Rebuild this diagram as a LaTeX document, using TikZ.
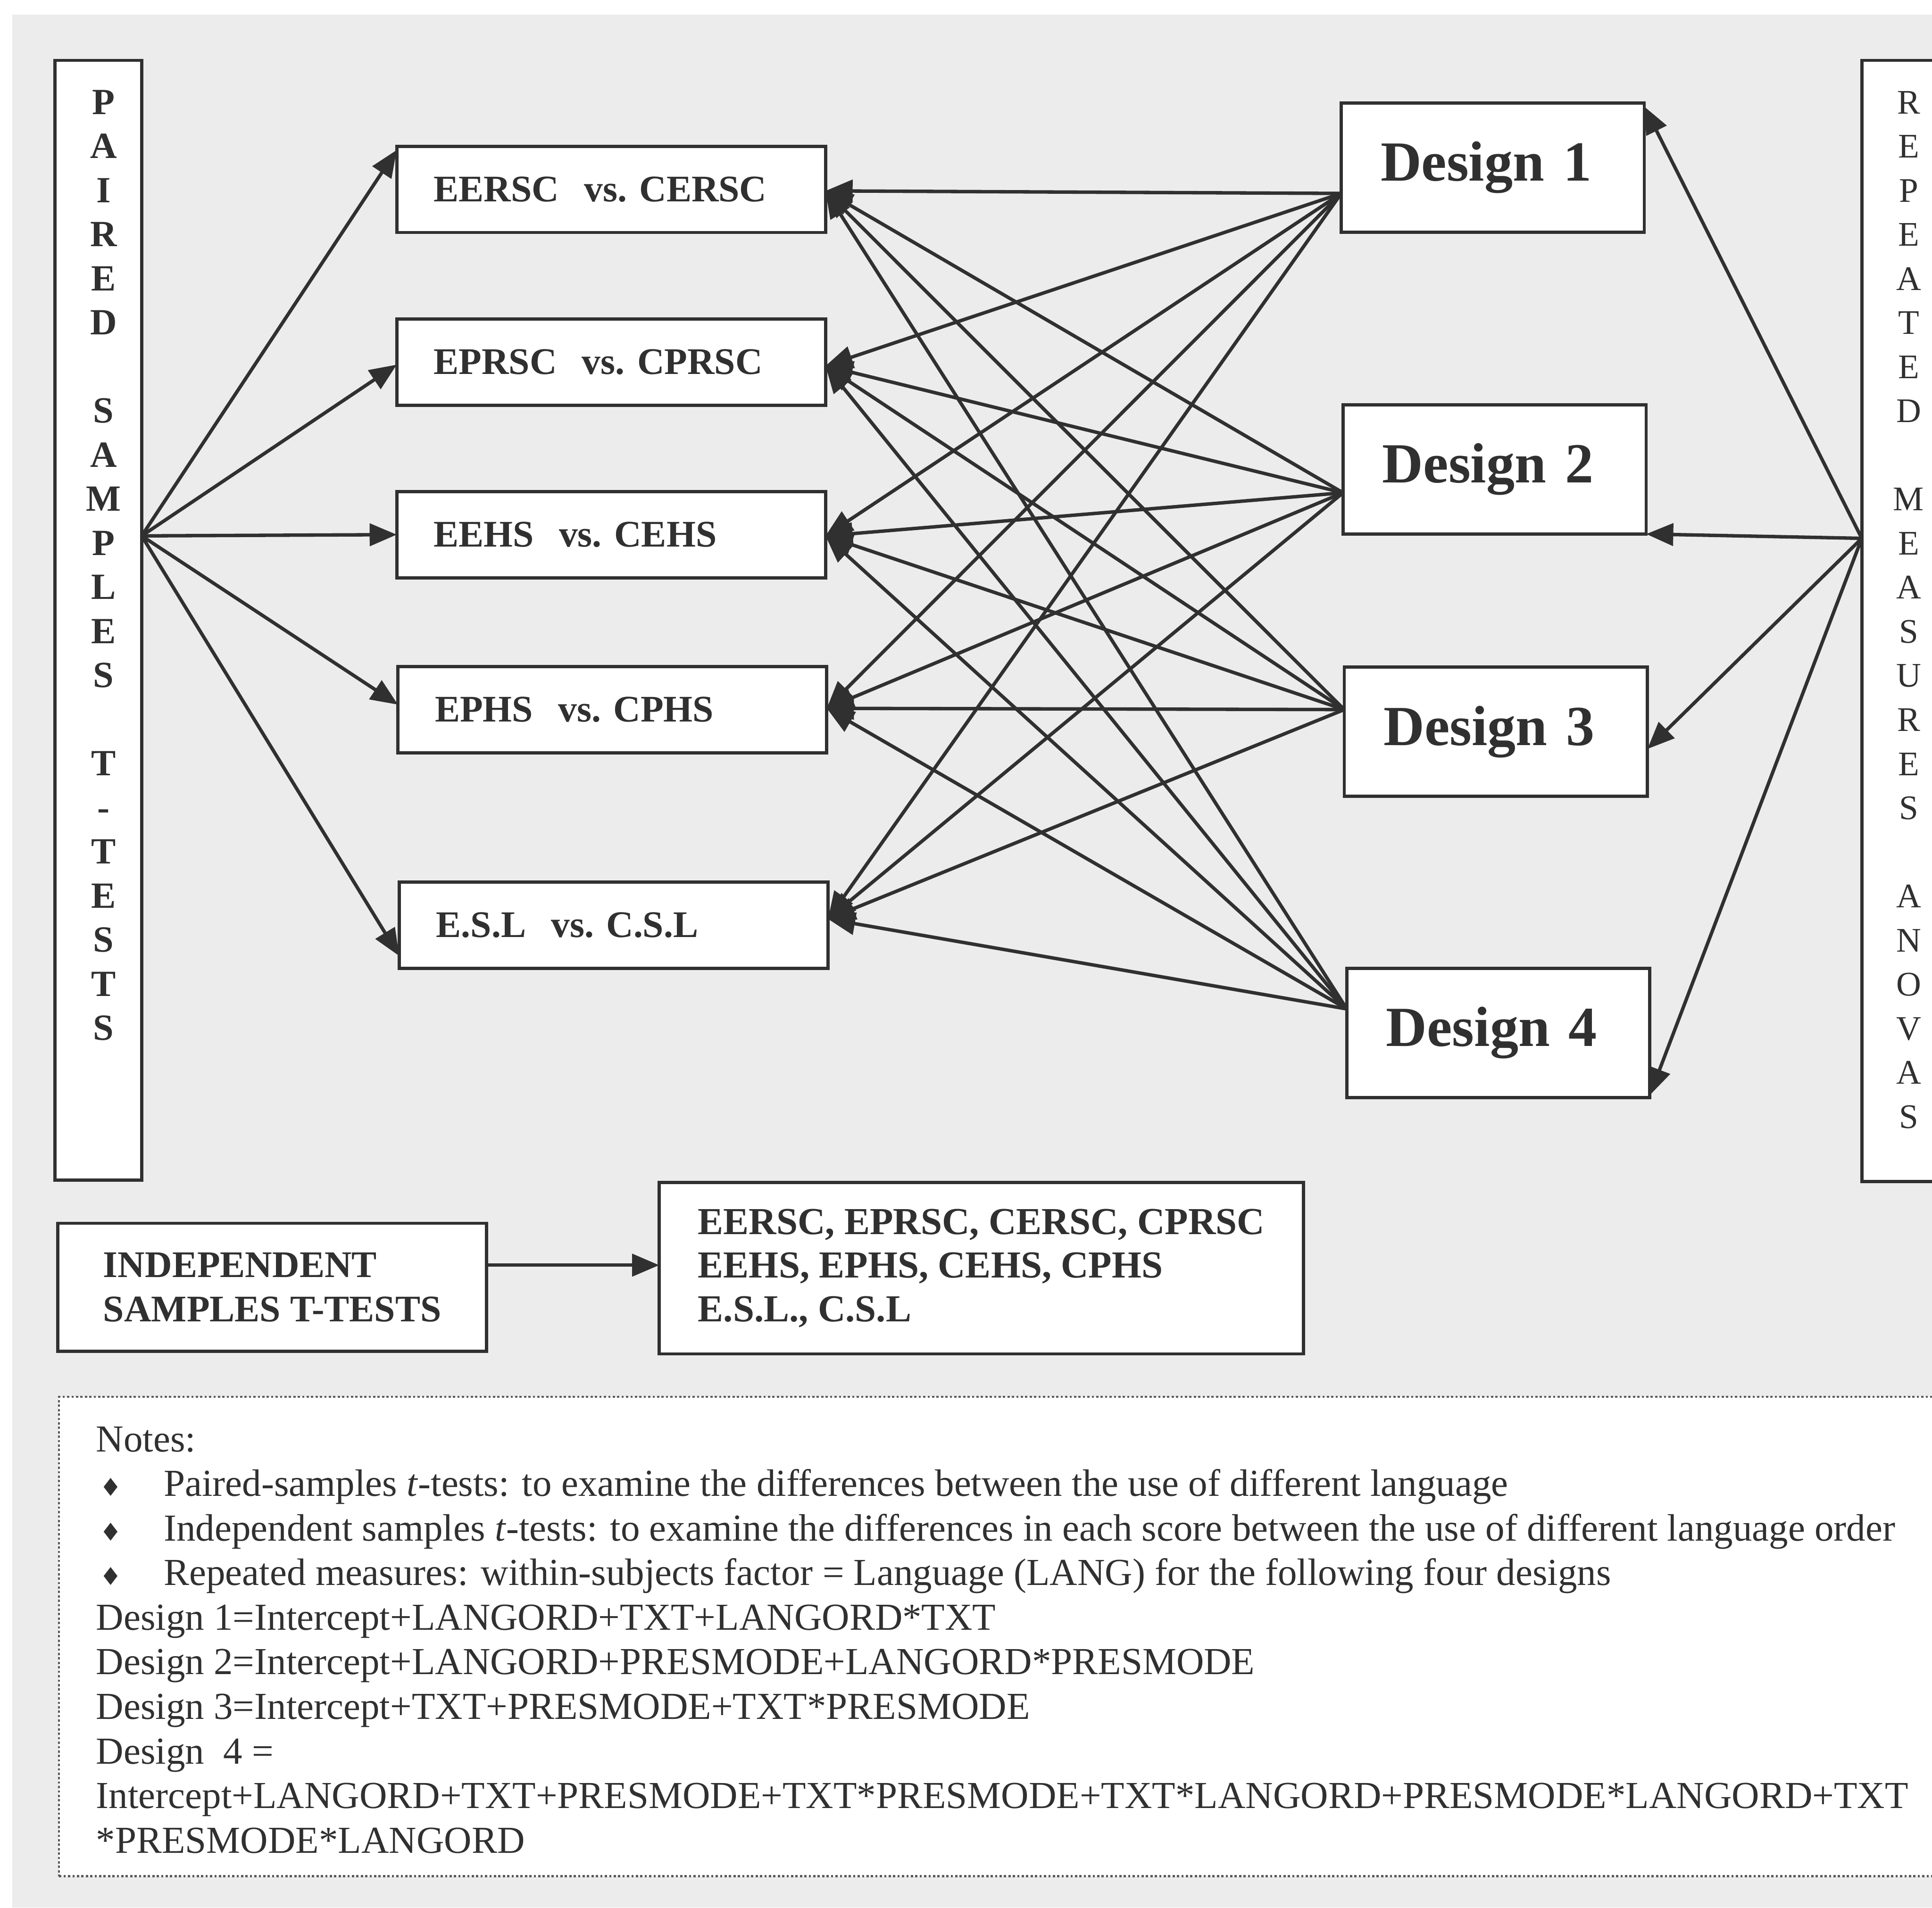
\documentclass[tikz,border=0pt]{standalone}
\usepackage{fontspec}
\setmainfont{Liberation Serif}
\newfontfamily\symfont{DejaVu Sans}
\usetikzlibrary{arrows.meta}

\definecolor{ink}{RGB}{48,48,48}
\definecolor{paper}{RGB}{236,236,236}

% small diamond bullet with hanging indent for the notes
\newcommand{\notebullet}{\makebox[27.5pt][l]{\hspace{1.5pt}{\symfont\fontsize{10}{10}\selectfont ♦}}}

\begin{document}
\begin{tikzpicture}[x=0.5pt,y=-0.5pt,
  every node/.style={inner sep=0pt, outer sep=0pt, text=ink},
  frame/.style={rectangle, draw=ink, line width=1.3pt, fill=white},
  midbox/.style={frame, minimum width=174pt, minimum height=35pt,
    text width=144pt, inner xsep=15pt, align=left,
    font=\bfseries\fontsize{15.25}{18}\selectfont},
  dbox/.style={frame, minimum width=123pt, minimum height=52.5pt,
    text width=91pt, inner xsep=16pt, align=left,
    font=\bfseries\fontsize{23}{27}\selectfont},
  vstack/.style={align=center, anchor=north},
  arr/.style={draw=ink, line width=1.4pt, -{Triangle[length=11pt,width=9pt]}},
  notebox/.style={rectangle, draw=ink!80, line width=0.8pt,
    dash pattern=on 0.9pt off 0.9pt, fill=white},
]
\useasboundingbox (0,0) rectangle (1568,1548.5);
\clip (0,0) rectangle (1568,1548.5);
\fill[white] (0,0) rectangle (1568,1548.5);
\fill[paper] (10,12) rectangle (1568,1548.5);

% side columns
\node[frame, minimum width=35.25pt, minimum height=454.5pt] (psam) at (79.75,503.5) {};
\node[vstack, font=\bfseries\fontsize{15}{17.9}\selectfont] (psamtext) at (84,73)
  {P\\A\\I\\R\\E\\D\\[17.9pt]S\\A\\M\\P\\L\\E\\S\\[17.9pt]T\\-\\T\\E\\S\\T\\S};
\node[frame, minimum width=39.5pt, minimum height=455pt] (rmeas) at (1550.5,504) {};
\node[vstack, font=\fontsize{14}{17.9}\selectfont] (rmeastext) at (1549,74)
  {R\\E\\P\\E\\A\\T\\E\\D\\[17.9pt]M\\E\\A\\S\\U\\R\\E\\S\\[17.9pt]A\\N\\O\\V\\A\\S};

% paired comparisons
\node[midbox] (eersc) at (496,153.75) {EERSC\ \ vs.\ CERSC};
\node[midbox] (eprsc) at (496,294) {EPRSC\ \ vs.\ CPRSC};
\node[midbox] (eehs)  at (496,434) {EEHS\ \ vs.\ CEHS};
\node[midbox] (ephs)  at (497,576) {EPHS\ \ vs.\ CPHS};
\node[midbox] (esl)   at (498,751) {E.S.L\ \ vs.\ C.S.L};

% designs
\node[dbox] (d1) at (1211.5,136) {Design 1};
\node[dbox] (d2) at (1213,381) {Design 2};
\node[dbox] (d3) at (1214,594) {Design 3};
\node[dbox] (d4) at (1216,838.5) {Design 4};

% independent samples
\node[frame, minimum width=174pt, minimum height=52pt, align=left,
  font=\bfseries\fontsize{15.25}{18}\selectfont] (ind) at (221,1045)
  {INDEPENDENT\\SAMPLES T-TESTS};
\node[frame, minimum width=261.5pt, minimum height=69.5pt, align=left,
  font=\bfseries\fontsize{15.5}{17.75}\selectfont] (vars) at (796.5,1029.5)
  {EERSC, EPRSC, CERSC, CPRSC\\EEHS, EPHS, CEHS, CPHS\\E.S.L., C.S.L};

% ports
\coordinate (psam-r) at ([yshift=34.25pt]psam.east);
\coordinate (rmeas-l) at ([yshift=33.5pt]rmeas.west);
\coordinate (d1-l) at ([yshift=-10.5pt]d1.west);
\coordinate (d2-l) at ([yshift=-9.5pt]d2.west);
\coordinate (d3-l) at ([yshift=9pt]d3.west);
\coordinate (d4-l) at ([yshift=9.75pt]d4.west);
\coordinate (eersc-r) at ([yshift=-0.6pt]eersc.east);
\coordinate (eprsc-r) at ([yshift=-1.5pt]eprsc.east);
\coordinate (eehs-r) at ([yshift=-0.5pt]eehs.east);
\coordinate (ephs-r) at ([yshift=0.5pt]ephs.east);
\coordinate (esl-r) at ([yshift=2.5pt]esl.east);

% paired t-tests
\draw[arr] (psam-r) -- ([yshift=-1.5pt]eersc.north west);
\draw[arr] (psam-r) -- ([yshift=-1pt]eprsc.west);
\draw[arr] (psam-r) -- (eehs.west);
\draw[arr] (psam-r) -- ([yshift=2pt]ephs.west);
\draw[arr] (psam-r) -- ([yshift=5pt]esl.south west);

% designs to comparisons
\foreach \d in {d1,d2,d3,d4}{
  \foreach \m in {eersc,eprsc,eehs,ephs,esl}{
    \draw[arr] (\d-l) -- (\m-r);
  }
}

% repeated measures
\draw[arr] (rmeas-l) -- ([yshift=-1.5pt]d1.north east);
\draw[arr] (rmeas-l) -- (d2.south east);
\draw[arr] (rmeas-l) -- ([yshift=-7pt]d3.east);
\draw[arr] (rmeas-l) -- ([yshift=1pt]d4.south east);

% independent samples
\draw[arr] ([yshift=9pt]ind.east) -- ([yshift=9pt]ind.east -| vars.west);

% notes
\node[notebox, minimum width=776pt, minimum height=194.5pt, anchor=north west] (notes) at (48,1134) {};
\node[anchor=north west, align=left, font=\fontsize{15.5}{18.1}\selectfont] (notetext) at (78,1158)
  {Notes:\\
   \notebullet Paired-samples \textit{t}-tests: to examine the differences between the use of different language\\
   \notebullet Independent samples \textit{t}-tests: to examine the differences in each score between the use of different language order\\
   \notebullet Repeated measures: within-subjects factor = Language (LANG) for the following four designs\\
   Design 1=Intercept+LANGORD+TXT+LANGORD*TXT\\
   Design 2=Intercept+LANGORD+PRESMODE+LANGORD*PRESMODE\\
   Design 3=Intercept+TXT+PRESMODE+TXT*PRESMODE\\
   Design\ \ 4 =\\
   Intercept+LANGORD+TXT+PRESMODE+TXT*PRESMODE+TXT*LANGORD+PRESMODE*LANGORD+TXT\\
   *PRESMODE*LANGORD};
\end{tikzpicture}
\end{document}
